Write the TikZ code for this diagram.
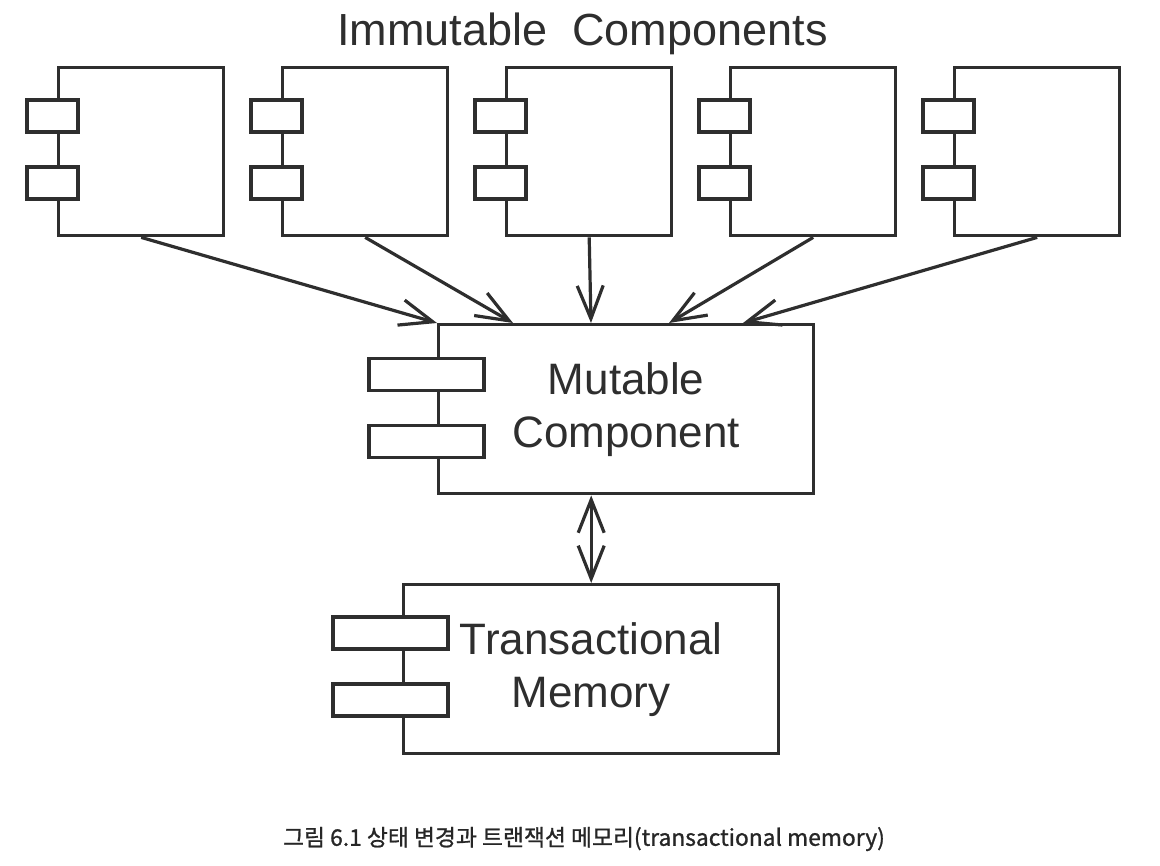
\documentclass[tikz,border=0pt]{standalone}
\usepackage{fontspec}
\newfontfamily\arial{Liberation Sans}
\newfontfamily\cjk{Noto Sans CJK KR}[FakeBold=1]
\usetikzlibrary{arrows.meta,calc}
\definecolor{ink}{HTML}{2E2E2E}
\tikzset{
  comp/.style={draw=ink, line width=3.4pt, inner sep=0pt, anchor=north west, minimum width=#1, minimum height=168pt,
    font=\arial\fontsize{44}{53}\selectfont, text=ink, align=center},
  comp/.default=165pt,
  port/.style={draw=ink, fill=white, line width=3.4pt, inner sep=0pt, minimum width=#1, minimum height=32pt},
  port/.default=51pt,
  >={Straight Barb[length=33pt,width=26pt]},
  flow/.style={draw=ink, line width=3.2pt, ->},
}
\begin{document}
\begin{tikzpicture}[x=1pt, y=-1pt]
\useasboundingbox (0,0) rectangle (1160,866);
\node[font=\arial\fontsize{45}{54}\selectfont, text=ink, anchor=base] (title) at (582.5,46) {Immutable\ \ Components};
\foreach \i in {1,...,5}{
  \node[comp] (im\i) at ({57+224*(\i-1)},66) {};
  \node[port] (p\i-1) at ($(im\i.north west)+(-4.5,50)$) {};
  \node[port] (p\i-2) at ($(im\i.north west)+(-4.5,117)$) {};
}
\node[comp=375pt, minimum height=169pt] (mut) at (437,323) {Mutable\\Component};
\node[port=115pt] (mp-1) at ($(mut.north west)+(-10.5,51.5)$) {};
\node[port=115pt] (mp-2) at ($(mut.north west)+(-10.5,118.5)$) {};
\node[comp=375pt, minimum height=169pt] (tm) at (402,583) {Transactional\\Memory};
\node[port=115pt] (tp-1) at ($(tm.north west)+(-11.5,50)$) {};
\node[port=115pt] (tp-2) at ($(tm.north west)+(-11.5,117)$) {};
\foreach \i/\dx in {1/0,2/76,3/154,4/232,5/306}
  \draw[flow] (im\i.south) -- ([xshift=\dx pt]mut.north west);
\draw[flow, <->] (tm.north |- mut.south) -- (tm.north);
\node[font=\cjk\fontsize{22.8}{27}\selectfont, text=black!85] (caption) at (584,839) {그림 6.1 상태 변경과 트랜잭션 메모리(transactional memory)};
\end{tikzpicture}
\end{document}
